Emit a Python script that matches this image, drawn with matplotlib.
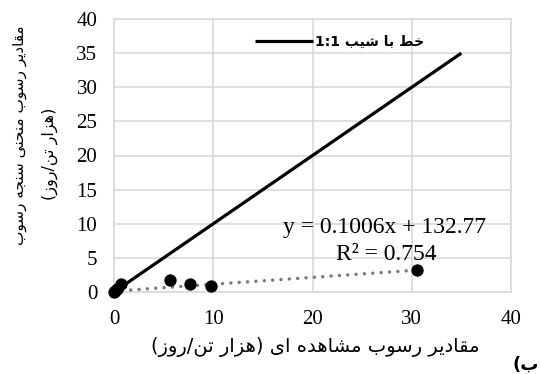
import re
import matplotlib
matplotlib.use("Agg")
import matplotlib.pyplot as plt
import numpy as np

# Observed vs. rating-curve sediment loads (thousand tons/day)
observed = [0.0, 0.1, 0.3, 0.7, 5.6, 7.7, 9.8, 30.5]
rating_curve = [0.0, 0.2, 0.4, 1.1, 1.8, 1.1, 0.9, 3.2]

# Linear fit reported on the chart (equation in tons/day)
fit_slope = 0.1006
fit_intercept_tons = 132.77
fit_r2 = 0.754

one_to_one_max = 35
x_ticks = [0, 10, 20, 30, 40]
y_ticks = [0, 5, 10, 15, 20, 25, 30, 35, 40]

x_label = "مقادیر رسوب مشاهده ای (هزار تن/روز)"
y_label_1 = "مقادیر رسوب منحنی سنجه رسوب"
y_label_2 = "(هزار تن/روز)"
legend_label = "خط با شیب 1:1"
panel_tag = "ب)"

# ---- minimal Persian shaping (presentation forms + right-to-left order) ----
_FORMS = {
    "ا": ("\uFE8D", "\uFE8E"),
    "ب": ("\uFE8F", "\uFE90", "\uFE91", "\uFE92"),
    "ت": ("\uFE95", "\uFE96", "\uFE97", "\uFE98"),
    "ج": ("\uFE9D", "\uFE9E", "\uFE9F", "\uFEA0"),
    "ح": ("\uFEA1", "\uFEA2", "\uFEA3", "\uFEA4"),
    "خ": ("\uFEA5", "\uFEA6", "\uFEA7", "\uFEA8"),
    "د": ("\uFEA9", "\uFEAA"),
    "ر": ("\uFEAD", "\uFEAE"),
    "ز": ("\uFEAF", "\uFEB0"),
    "س": ("\uFEB1", "\uFEB2", "\uFEB3", "\uFEB4"),
    "ش": ("\uFEB5", "\uFEB6", "\uFEB7", "\uFEB8"),
    "ط": ("\uFEC1", "\uFEC2", "\uFEC3", "\uFEC4"),
    "ق": ("\uFED5", "\uFED6", "\uFED7", "\uFED8"),
    "م": ("\uFEE1", "\uFEE2", "\uFEE3", "\uFEE4"),
    "ن": ("\uFEE5", "\uFEE6", "\uFEE7", "\uFEE8"),
    "ه": ("\uFEE9", "\uFEEA", "\uFEEB", "\uFEEC"),
    "و": ("\uFEED", "\uFEEE"),
    "ی": ("\uFEEF", "\uFEF0", "\uFEF3", "\uFEF4"),
}
_MIRROR = {"(": ")", ")": "("}


def persian(text):
    out = []
    n = len(text)
    for i, ch in enumerate(text):
        forms = _FORMS.get(ch)
        if forms is None:
            out.append(ch)
            continue
        prev = text[i - 1] if i > 0 else ""
        nxt = text[i + 1] if i + 1 < n else ""
        joins_prev = prev in _FORMS and len(_FORMS[prev]) == 4
        joins_next = len(forms) == 4 and nxt in _FORMS
        if joins_prev and joins_next:
            out.append(forms[3])
        elif joins_prev:
            out.append(forms[1])
        elif joins_next:
            out.append(forms[2])
        else:
            out.append(forms[0])
    vis = "".join(_MIRROR.get(c, c) for c in reversed(out))
    # keep left-to-right runs (digits, latin) in reading order
    return re.sub(r"[0-9A-Za-z.:]+", lambda m: m.group(0)[::-1], vis)


serif = "Liberation Serif"
fa_font = "DejaVu Sans"
grid_color = "#d9d9d9"
W, H = 540, 374


def fpos(px, py):
    """Figure-fraction position from pixel coordinates (origin top-left)."""
    return px / W, 1 - py / H


fig = plt.figure(figsize=(W / 100, H / 100), dpi=100)
ax = fig.add_axes([114 / W, 1 - 292 / H, (511 - 114) / W, (292 - 19) / H])

ax.set_xlim(0, 40)
ax.set_ylim(0, 40)
ax.set_xticks(x_ticks)
ax.set_yticks(y_ticks)
ax.grid(True, color=grid_color, linewidth=1.2)
ax.set_axisbelow(True)
for side in ax.spines.values():
    side.set_color(grid_color)
    side.set_linewidth(1.2)
ax.tick_params(length=0, labelsize=15, colors="black")
ax.tick_params(axis="y", pad=12)
ax.tick_params(axis="x", pad=13)
for lbl in ax.get_xticklabels() + ax.get_yticklabels():
    lbl.set_fontfamily(serif)

# 1:1 reference line
ax.plot([0, one_to_one_max], [0, one_to_one_max], color="black", linewidth=2.3,
        solid_capstyle="butt", zorder=3, label=persian(legend_label))

# linear trend (intercept converted to thousand tons/day)
tx = np.array([0, max(observed)])
ty = fit_slope * tx + fit_intercept_tons / 1000
ax.plot(tx, ty, color="#7a7a7a", linewidth=2.5, linestyle=(0, (0.01, 2.4)),
        dash_capstyle="round", zorder=3)

ax.scatter(observed, rating_curve, s=62, color="black", zorder=4, clip_on=False)

fig.text(*fpos(385, 228), f"y = {fit_slope}x + {fit_intercept_tons}",
         fontsize=17, family=serif, ha="center", va="center")
fig.text(*fpos(386, 254), f"R² = {fit_r2}",
         fontsize=17, family=serif, ha="center", va="center")

leg = ax.legend(loc="center left", bbox_to_anchor=(0.355, 0.917), frameon=False,
                handlelength=4.2, handletextpad=0.1, borderaxespad=0, borderpad=0,
                prop={"family": fa_font, "weight": "bold", "size": 10})

fig.text(*fpos(315, 347), persian(x_label), family=fa_font, fontsize=14,
         ha="center", va="center")
fig.text(*fpos(20, 135), persian(y_label_1), family=fa_font, fontsize=11,
         ha="center", va="center", rotation=90)
fig.text(*fpos(50, 154), persian(y_label_2), family=fa_font, fontsize=11.5,
         ha="center", va="center", rotation=90)
fig.text(*fpos(526, 365), persian(panel_tag), family=fa_font, fontsize=13,
         weight="bold", ha="center", va="center")

fig.savefig("out.png", dpi=100)
